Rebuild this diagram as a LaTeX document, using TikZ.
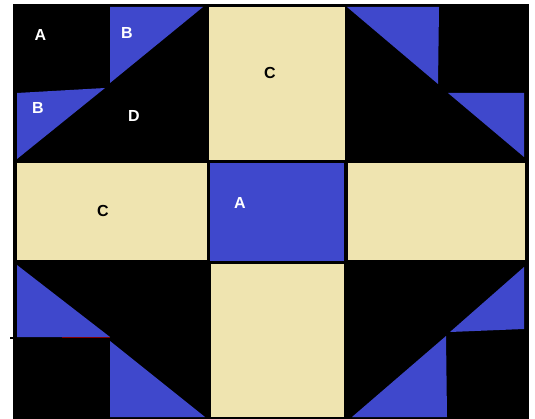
\documentclass[tikz,border=0pt]{standalone}
\usepackage{fontspec}
\setmainfont{Liberation Sans}
\definecolor{qblue}{RGB}{63,72,204}
\definecolor{qtan}{RGB}{239,228,176}
\begin{document}
\begin{tikzpicture}[x=1pt,y=-1pt,
  tri/.style={fill=qblue},
  tan/.style={fill=qtan},
  lab/.style={font=\fontsize{16}{16}\selectfont\bfseries,inner sep=0pt},
  wlab/.style={lab,text=white},
  blab/.style={lab,text=black}]
\useasboundingbox (0,0) rectangle (535,419);
\fill[white] (0,0) rectangle (535,419);
% black background
\fill[black] (13,4) rectangle (529,419);
\fill[black] (10,337) rectangle (13,339);
% yellow and centre blocks
\fill[tan] (209,7) rectangle (345,160);
\fill[tan] (17,163) rectangle (207,260);
\fill[qblue] (210,163) rectangle (344,261);
\fill[tan] (348,163) rectangle (525,260);
\fill[tan] (211,264) rectangle (344,417);
% top-left triangles
\fill[tri] (110,7) -- (203,7) -- (110,83) -- cycle;
\fill[tri] (17,93) -- (105,88) -- (17,159) -- cycle;
% top-right triangles
\fill[tri] (347,7) -- (439,7) -- (438,84) -- cycle;
\fill[tri] (448,93) -- (524,93) -- (524,157) -- cycle;
% bottom-left triangles
\fill[tri] (17,265) -- (17,337) -- (110,337) -- cycle;
\fill[tri] (110,341) -- (110,417) -- (205,417) -- cycle;
\draw[red!50!black,line width=1pt] (62,337) -- (110,337);
% bottom-right triangles
\fill[tri] (524,267) -- (524,329) -- (450,332) -- cycle;
\fill[tri] (446,336) -- (447,417) -- (352,417) -- cycle;
% labels
\node[wlab] (a1) at (40.5,35) {A};
\node[wlab] (b1) at (127,33) {B};
\node[blab] (c1) at (270,72.5) {C};
\node[wlab] (b2) at (38,108) {B};
\node[wlab] (d1) at (134,116) {D};
\node[blab] (c2) at (103,211) {C};
\node[wlab] (a2) at (240,203) {A};
\end{tikzpicture}
\end{document}
